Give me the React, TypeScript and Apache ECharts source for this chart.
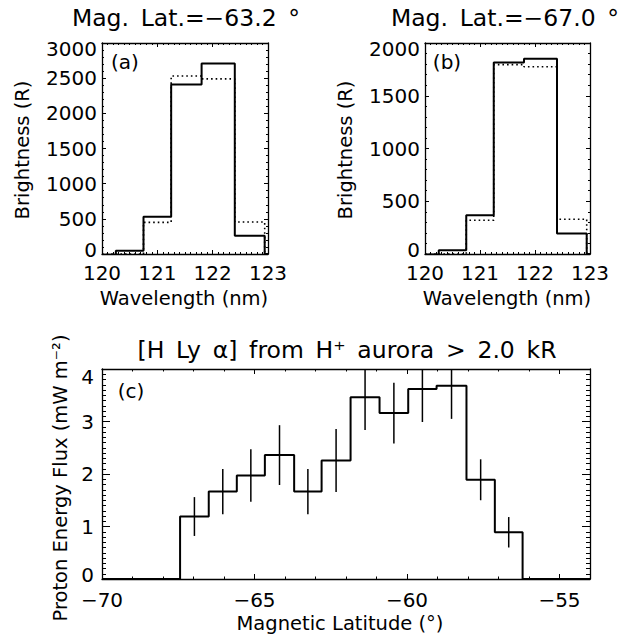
import React, { useEffect, useRef } from "react";
import * as echarts from "echarts";

// ---------- data ----------
const wavelengthEdges = [120.0, 120.25, 120.75, 121.25, 121.8, 122.4, 122.94, 123.0];
const brightnessA_obs = [-10, 45, 530, 2410, 2710, 260, 0];
const brightnessA_model = [0, 0, 450, 2530, 2490, 455, 0];
const brightnessB_obs = [-5, 35, 368, 1815, 1850, 195, 0];
const brightnessB_model = [0, 0, 320, 1795, 1775, 330, 0];

const latEdges = [-70, -67.44, -66.5, -65.58, -64.66, -63.7, -62.8, -61.85, -60.9, -59.96, -59.03, -58.05, -57.12, -56.21, -54];
const protonFlux = [0, 1.19, 1.665, 1.97, 2.36, 1.665, 2.255, 3.46, 3.16, 3.62, 3.68, 1.89, 0.89, 0];
const fluxErr = [0, 0.37, 0.43, 0.5, 0.57, 0.43, 0.6, 0.62, 0.58, 0.63, 0.63, 0.39, 0.29, 0];

const wlTicks = { min: 120, max: 123, interval: 1 };
const yTicksA = { min: 0, max: 3000, interval: 500 };
const yTicksB = { min: 0, max: 2000, interval: 500 };
const latTicks = { min: -70, max: -54, interval: 5 };
const fluxTicks = { min: 0, max: 4, interval: 1 };

const FONT = "DejaVu Sans";
const FS_TICK = 20;
const FS_NAME = 19.5;
const FS_TITLE = 23.5;

function histPoints(edges: number[], vals: number[]) {
  const pts: number[][] = [];
  for (let i = 0; i < vals.length; i++) pts.push([edges[i], vals[i]]);
  pts.push([edges[edges.length - 1], vals[vals.length - 1]]);
  pts.push([edges[edges.length - 1], 0]);
  return pts;
}

const minus = (v: number) => String(v).replace("-", "\u2212");

function axisBase(grid: number, r: any, position: string, o: any) {
  const tokenBase = { fontFamily: FONT, fontSize: FS_TICK, color: "#000", lineHeight: 12 };
  const label: any = o.labels
    ? {
        show: true,
        margin: o.margin,
        color: "#000",
        fontFamily: FONT,
        fontSize: FS_TICK,
        showMaxLabel: o.showMax !== false,
        showMinLabel: true,
      }
    : { show: false };
  if (o.labels && o.yShift) {
    label.lineHeight = 12;
    label.formatter = (v: number) => {
      const s = minus(v);
      if (v === r.min) return "{lo|" + s + "}";
      if (v === r.max) return "{hi|" + s + "}";
      return s;
    };
    label.rich = {
      lo: { ...tokenBase, padding: [0, 0, 8, 0] },
      hi: { ...tokenBase, padding: [o.hiPad, 0, 0, 0] },
    };
  } else if (o.labels) {
    label.formatter = minus;
  }
  return {
    type: "value",
    gridIndex: grid,
    position,
    min: r.min,
    max: r.max,
    interval: r.interval,
    axisLine: { show: o.line !== false, onZero: false, lineStyle: { color: "#000", width: 1.3 } },
    axisTick: { show: true, inside: true, length: o.tickLen, lineStyle: { color: "#000", width: 1 } },
    minorTick: o.minor
      ? { show: true, splitNumber: o.minor, length: o.minorLen, lineStyle: { color: "#000", width: 1 } }
      : { show: false },
    axisLabel: label,
    splitLine: { show: false },
    minorSplitLine: { show: false },
  };
}

export default function App() {
  const ref = useRef<HTMLDivElement>(null);
  useEffect(() => {
    if (!ref.current) return;
    const chart = echarts.init(ref.current, null, { renderer: "svg" });

    const errData = [];
    for (let i = 0; i < protonFlux.length; i++) {
      if (fluxErr[i] > 0) {
        const c = (latEdges[i] + latEdges[i + 1]) / 2;
        errData.push([c, protonFlux[i] - fluxErr[i], protonFlux[i] + fluxErr[i]]);
      }
    }

    const txt = (text: string, x: number, y: number, rot = 0, size = FS_NAME) => ({
      type: "text",
      x,
      y,
      rotation: rot,
      style: {
        text,
        fill: "#000",
        fontFamily: FONT,
        fontSize: size,
        textAlign: "center",
        textVerticalAlign: "middle",
        align: "center",
        verticalAlign: "middle",
      },
    });

    const SP = "\u2002";
    const option: any = {
      animation: false,
      backgroundColor: "#fff",
      grid: [
        { left: 102, top: 43, width: 166, height: 211, containLabel: false },
        { left: 425, top: 43, width: 165, height: 211, containLabel: false },
        { left: 102, top: 369, width: 488, height: 210, containLabel: false },
      ],
      xAxis: [
        axisBase(0, wlTicks, "bottom", { labels: true, margin: 9, tickLen: 4, minor: 10, minorLen: 2 }),
        axisBase(0, wlTicks, "top", { labels: false, tickLen: 4, minor: 10, minorLen: 2 }),
        axisBase(1, wlTicks, "bottom", { labels: true, margin: 9, tickLen: 4, minor: 10, minorLen: 2 }),
        axisBase(1, wlTicks, "top", { labels: false, tickLen: 4, minor: 10, minorLen: 2 }),
        axisBase(2, latTicks, "bottom", { labels: true, margin: 11, tickLen: 5, showMax: false }),
        axisBase(2, { min: -70, max: -54, interval: 1 }, "bottom", { labels: false, line: false, tickLen: 2.5 }),
        axisBase(2, latTicks, "top", { labels: false, tickLen: 5 }),
        axisBase(2, { min: -70, max: -54, interval: 1 }, "top", { labels: false, line: false, tickLen: 2.5 }),
      ],
      yAxis: [
        axisBase(0, yTicksA, "left", { labels: true, margin: 5, tickLen: 4, minor: 5, minorLen: 2, yShift: true, hiPad: 12 }),
        axisBase(0, yTicksA, "right", { labels: false, tickLen: 4, minor: 5, minorLen: 2 }),
        axisBase(1, yTicksB, "left", { labels: true, margin: 5, tickLen: 4, minor: 5, minorLen: 2, yShift: true, hiPad: 12 }),
        axisBase(1, yTicksB, "right", { labels: false, tickLen: 4, minor: 5, minorLen: 2 }),
        axisBase(2, fluxTicks, "left", { labels: true, margin: 8, tickLen: 8, minor: 10, minorLen: 4, yShift: true, hiPad: 16 }),
        axisBase(2, fluxTicks, "right", { labels: false, tickLen: 8, minor: 10, minorLen: 4 }),
      ],
      series: [
        {
          type: "line", xAxisIndex: 0, yAxisIndex: 0, step: "end", symbol: "none",
          data: histPoints(wavelengthEdges, brightnessA_model),
          lineStyle: { color: "#000", width: 1.6, type: [1.6, 3] },
        },
        {
          type: "line", xAxisIndex: 0, yAxisIndex: 0, step: "end", symbol: "none",
          data: histPoints(wavelengthEdges, brightnessA_obs),
          lineStyle: { color: "#000", width: 2 },
        },
        {
          type: "line", xAxisIndex: 2, yAxisIndex: 2, step: "end", symbol: "none",
          data: histPoints(wavelengthEdges, brightnessB_model),
          lineStyle: { color: "#000", width: 1.6, type: [1.6, 3] },
        },
        {
          type: "line", xAxisIndex: 2, yAxisIndex: 2, step: "end", symbol: "none",
          data: histPoints(wavelengthEdges, brightnessB_obs),
          lineStyle: { color: "#000", width: 2 },
        },
        {
          type: "line", xAxisIndex: 4, yAxisIndex: 4, step: "end", symbol: "none",
          data: histPoints(latEdges, protonFlux),
          lineStyle: { color: "#000", width: 2 },
        },
        {
          type: "custom", xAxisIndex: 4, yAxisIndex: 4,
          data: errData,
          encode: { x: 0, y: [1, 2] },
          renderItem: (params: any, api: any) => {
            const cs = params.coordSys;
            const p1 = api.coord([api.value(0), api.value(1)]);
            const p2 = api.coord([api.value(0), api.value(2)]);
            const clampY = (y: number) => Math.max(cs.y, Math.min(cs.y + cs.height, y));
            return {
              type: "line",
              shape: { x1: p1[0], y1: clampY(p1[1]), x2: p2[0], y2: clampY(p2[1]) },
              style: { stroke: "#000", lineWidth: 1.5 },
            };
          },
        },
      ],
      graphic: [
        txt("Mag." + SP + "Lat.=\u221263.2" + SP + "\u00b0", 186, 18, 0, FS_TITLE),
        txt("Mag." + SP + "Lat.=\u221267.0" + SP + "\u00b0", 505, 18, 0, FS_TITLE),
        txt("Brightness (R)", 22, 150, Math.PI / 2),
        txt("Brightness (R)", 345, 150, Math.PI / 2),
        txt("Wavelength (nm)", 184, 298),
        txt("Wavelength (nm)", 507, 298),
        txt("(a)", 125, 62, 0, 20),
        txt("(b)", 447, 62, 0, 20),
        txt(["[H", "Ly", "\u03b1]", "from", "H\u207a", "aurora", ">", "2.0", "kR"].join(SP), 347, 350, 0, FS_TITLE),
        txt("Proton Energy Flux (mW m\u207b\u00b2)", 60, 478, Math.PI / 2),
        txt("Magnetic Latitude (\u00b0)", 340, 623),
        txt("(c)", 131, 391, 0, 20),
      ],
    };
    chart.setOption(option);
    return () => chart.dispose();
  }, []);
  return (
    <div
      ref={ref}
      style={{ position: "absolute", left: 0, top: 0, width: 624, height: 638, background: "#fff" }}
    />
  );
}
